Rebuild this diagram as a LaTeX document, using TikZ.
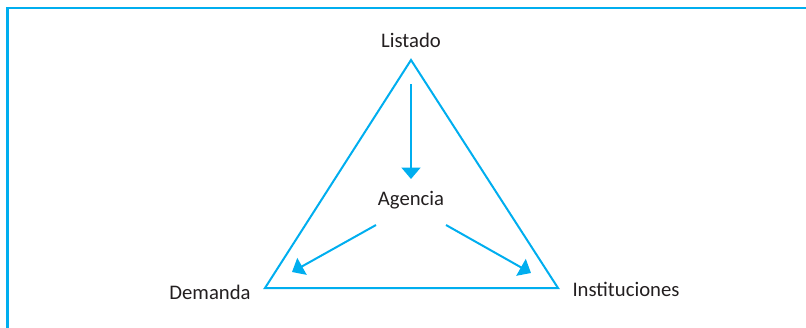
\documentclass[tikz,border=0pt]{standalone}
\usepackage{fontspec}
\setmainfont{Carlito}
\usetikzlibrary{arrows.meta}
\definecolor{cy}{RGB}{0,174,239}
\definecolor{tx}{RGB}{35,31,32}
\tikzset{
  lbl/.style={text=tx,font=\fontsize{20.7}{24}\selectfont,inner sep=0pt},
  tri/.style={draw=cy,line width=2pt,line join=miter},
  arr/.style={draw=cy,line width=2pt,-{Triangle[width=19pt,length=11.5pt]}}
}
\begin{document}
\begin{tikzpicture}[x=1pt,y=-1pt]
\useasboundingbox (0,0) rectangle (806,327);
\draw[cy,line width=2.6pt] (7.3,330) -- (7.3,7.8) -- (810,7.8);
\coordinate (top) at (411,60);
\coordinate (bl) at (265,288);
\coordinate (br) at (558,288);
\draw[tri] (top) -- (br) -- (bl) -- cycle;
\node[lbl] (listado) at (411,40) {Listado};
\node[lbl] (agencia) at (411,200) {Agencia};
\node[lbl] (demanda) at (210,292) {Demanda};
\node[lbl] (inst) at (626,289) {Instituciones};
\coordinate (a0) at (411,84);
\coordinate (a1) at (411,179);
\coordinate (l0) at (376,225);
\coordinate (l1) at (292,272);
\coordinate (r0) at (446,225);
\coordinate (r1) at (531,273);
\draw[arr] (a0) -- (a1);
\draw[arr] (l0) -- (l1);
\draw[arr] (r0) -- (r1);
\end{tikzpicture}
\end{document}
